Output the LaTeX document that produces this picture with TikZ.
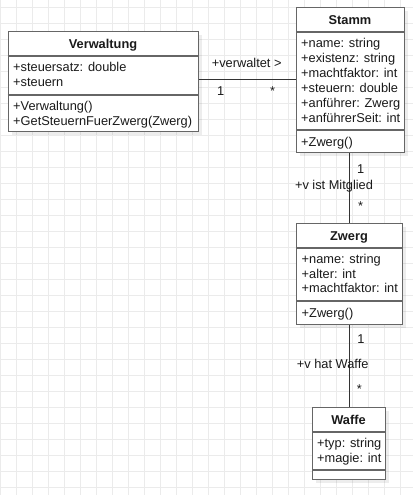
\documentclass[tikz,border=0pt]{standalone}
\usepackage{fontspec}
\setmainfont{Liberation Sans}
\definecolor{boxline}{HTML}{666666}
\definecolor{gridc}{HTML}{EBEBEB}
\definecolor{txt}{HTML}{1A1A1A}
\definecolor{conn}{HTML}{333333}
\begin{document}
\begin{tikzpicture}[x=1pt,y=-1pt,
  font=\fontsize{12.8}{15}\selectfont,
  umlbox/.style={draw=boxline,line width=1.3pt,fill=white,rectangle,inner sep=0pt,anchor=north west},
  shadowbox/.style={fill=black,opacity=0.07,draw=none},
  sep/.style={draw=boxline,line width=1.3pt},
  row/.style={anchor=west,inner sep=0pt,text height=9pt,text depth=0pt,text=txt},
  title/.style={anchor=center,inner sep=0pt,text height=9pt,text depth=0pt,text=txt,font=\fontsize{12.8}{15}\selectfont\bfseries},
  lbl/.style={anchor=center,inner sep=0pt,text height=9pt,text depth=0pt,text=txt},
  assoc/.style={draw=conn,line width=1pt}]
\useasboundingbox (0,0) rectangle (413,495);
\fill[white] (0,0) rectangle (413,495);
% grid
\foreach \gx in {0,16,...,412} \draw[gridc,line width=0.8pt] (\gx,0) -- (\gx,495);
\foreach \gy in {7,23,...,494} \draw[gridc,line width=0.8pt] (0,\gy) -- (413,\gy);
% shadows
\fill[shadowbox] (11.5,35) rectangle (202,135);
\fill[shadowbox] (300,11) rectangle (408,156);
\fill[shadowbox] (300,227) rectangle (406,328);
\fill[shadowbox] (316,411) rectangle (389,483);
% connectors (drawn first)
\node[umlbox,minimum width=190.5pt,minimum height=100pt] (verw) at (7.5,31) {};
\node[umlbox,minimum width=108pt,minimum height=145pt] (stamm) at (296,7) {};
\node[umlbox,minimum width=106pt,minimum height=101pt] (zwerg) at (296,223) {};
\node[umlbox,minimum width=73pt,minimum height=72pt] (waffe) at (312,407) {};
\draw[assoc] (verw.east |- 0,79) -- (stamm.west |- 0,79);
\draw[assoc] (stamm.south -| 349.5,0) -- (zwerg.north -| 349.5,0);
\draw[assoc] (zwerg.south -| 349,0) -- (waffe.north -| 349,0);
% separators
\draw[sep] (verw.west |- 0,56) -- (verw.east |- 0,56);
\draw[sep] (verw.west |- 0,95) -- (verw.east |- 0,95);
\draw[sep] (stamm.west |- 0,32) -- (stamm.east |- 0,32);
\draw[sep] (stamm.west |- 0,130) -- (stamm.east |- 0,130);
\draw[sep] (zwerg.west |- 0,248) -- (zwerg.east |- 0,248);
\draw[sep] (zwerg.west |- 0,301) -- (zwerg.east |- 0,301);
\draw[sep] (waffe.west |- 0,432) -- (waffe.east |- 0,432);
\draw[sep] (waffe.west |- 0,470) -- (waffe.east |- 0,470);
% Verwaltung
\node[title] (verwT) at (103,44) {Verwaltung};
\node[row] (verwA1) at (13,66.7) {+steuersatz: double};
\node[row] (verwA2) at (13,81.7) {+steuern};
\node[row] (verwM1) at (13,105.5) {+Verwaltung()};
\node[row] (verwM2) at (13,120.5) {+GetSteuernFuerZwerg(Zwerg)};
% Stamm
\node[title] (stammT) at (350,20) {Stamm};
\node[row] (stammA1) at (301,42.7) {+name: string};
\node[row] (stammA2) at (301,57.8) {+existenz: string};
\node[row] (stammA3) at (301,72.9) {+machtfaktor: int};
\node[row] (stammA4) at (301,88.0) {+steuern: double};
\node[row] (stammA5) at (301,103.1) {+anführer: Zwerg};
\node[row] (stammA6) at (301,118.2) {+anführerSeit: int};
\node[row] (stammM1) at (301,141.7) {+Zwerg()};
% Zwerg
\node[title] (zwergT) at (349,236) {Zwerg};
\node[row] (zwergA1) at (301.5,258.7) {+name: string};
\node[row] (zwergA2) at (301.5,273.5) {+alter: int};
\node[row] (zwergA3) at (301.5,288.3) {+machtfaktor: int};
\node[row] (zwergM1) at (301.5,312.7) {+Zwerg()};
% Waffe
\node[title] (waffeT) at (348.5,420) {Waffe};
\node[row] (waffeA1) at (317,443.3) {+typ: string};
\node[row] (waffeA2) at (317,457.5) {+magie: int};
% association labels
\node[lbl] (l1) at (246.7,62.7) {+verwaltet >};
\node[lbl] (l1a) at (220.7,90.7) {1};
\node[lbl] (l1b) at (272.7,91) {*};
\node[lbl] (l2) at (334,185) {+v ist Mitglied};
\node[lbl] (l2a) at (360.7,169) {1};
\node[lbl] (l2b) at (360.7,205.6) {*};
\node[lbl] (l3) at (332.7,364.3) {+v hat Waffe};
\node[lbl] (l3a) at (361,339.3) {1};
\node[lbl] (l3b) at (359.3,389) {*};
\end{tikzpicture}
\end{document}
